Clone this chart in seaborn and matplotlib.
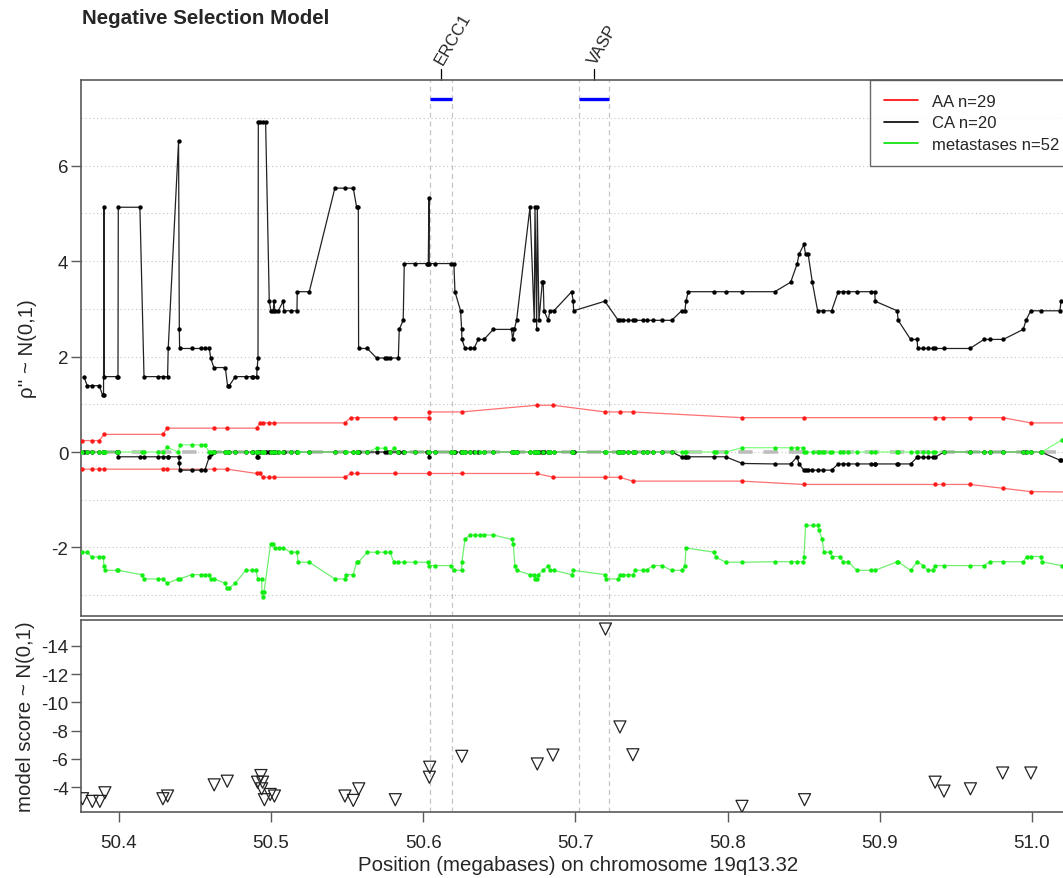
import matplotlib
matplotlib.use("Agg")
import matplotlib.pyplot as plt
from matplotlib.lines import Line2D
import seaborn as sns

# Negative selection model, chromosome 19q13.32 region
# positions in megabases

# AA group (n=29): upper and lower envelope
aa_pos = [50.3756, 50.3822, 50.3872, 50.3903, 50.4288, 50.4319, 50.4625, 50.4713, 50.4906,
          50.4928, 50.4945, 50.4989, 50.5020, 50.5486, 50.5524, 50.5567, 50.5815, 50.6038,
          50.6041, 50.6253, 50.6746, 50.6855, 50.7194, 50.7293, 50.7376, 50.8093, 50.8502,
          50.9363, 50.9418, 50.9593, 50.9808, 50.9994, 51.0300]
aa_hi = [0.24, 0.24, 0.24, 0.37, 0.37, 0.50, 0.50, 0.50, 0.50, 0.61, 0.61, 0.61, 0.61, 0.61,
         0.72, 0.72, 0.72, 0.72, 0.84, 0.84, 0.98, 0.98, 0.84, 0.84, 0.84, 0.72, 0.72, 0.72,
         0.72, 0.72, 0.72, 0.61, 0.61]
aa_lo = [-0.36, -0.36, -0.36, -0.36, -0.36, -0.36, -0.36, -0.36, -0.45, -0.45, -0.53, -0.53,
         -0.53, -0.53, -0.45, -0.45, -0.45, -0.45, -0.45, -0.45, -0.45, -0.53, -0.53, -0.53,
         -0.61, -0.61, -0.68, -0.68, -0.68, -0.68, -0.76, -0.83, -0.84]

# CA group (n=20)
ca_pos = [50.3771, 50.3793, 50.3822, 50.3872, 50.3894, 50.3900, 50.3903, 50.3905, 50.3986, 50.3995,
          50.3997, 50.4139, 50.4166, 50.4260, 50.4288, 50.4321, 50.4325, 50.4393, 50.4398, 50.4400,
          50.4479, 50.4540, 50.4566, 50.4595, 50.4604, 50.4625, 50.4700, 50.4715, 50.4726, 50.4766,
          50.4834, 50.4873, 50.4884, 50.4906, 50.4910, 50.4915, 50.4917, 50.4928, 50.4945, 50.4965,
          50.4989, 50.5000, 50.5015, 50.5020, 50.5026, 50.5048, 50.5081, 50.5085, 50.5129, 50.5171,
          50.5173, 50.5252, 50.5420, 50.5486, 50.5541, 50.5563, 50.5574, 50.5576, 50.5633, 50.5694,
          50.5749, 50.5765, 50.5782, 50.5837, 50.5843, 50.5869, 50.5876, 50.5946, 50.6027, 50.6034,
          50.6038, 50.6040, 50.6078, 50.6181, 50.6202, 50.6209, 50.6246, 50.6253, 50.6255, 50.6275,
          50.6307, 50.6334, 50.6362, 50.6400, 50.6461, 50.6581, 50.6588, 50.6599, 50.6614, 50.6702,
          50.6730, 50.6735, 50.6746, 50.6750, 50.6761, 50.6783, 50.6789, 50.6794, 50.6822, 50.6833,
          50.6859, 50.6976, 50.6986, 50.6989, 50.7194, 50.7282, 50.7293, 50.7315, 50.7344, 50.7380,
          50.7392, 50.7442, 50.7468, 50.7508, 50.7567, 50.7633, 50.7698, 50.7720, 50.7727, 50.7742,
          50.7913, 50.7987, 50.8097, 50.8311, 50.8415, 50.8458, 50.8469, 50.8502, 50.8513, 50.8530,
          50.8557, 50.8592, 50.8629, 50.8684, 50.8727, 50.8760, 50.8793, 50.8848, 50.8942, 50.8968,
          50.8970, 50.9115, 50.9121, 50.9203, 50.9246, 50.9249, 50.9286, 50.9315, 50.9347, 50.9363,
          50.9422, 50.9593, 50.9685, 50.9724, 50.9812, 50.9943, 50.9961, 50.9992, 51.0059, 51.0184,
          51.0191, 51.0300]
ca_hi = [1.58, 1.39, 1.39, 1.39, 1.19, 1.19, 5.13, 1.58, 1.58, 1.58,
         5.13, 5.13, 1.58, 1.58, 1.58, 1.58, 2.17, 6.51, 2.57, 2.17,
         2.17, 2.17, 2.17, 2.17, 1.97, 1.77, 1.77, 1.39, 1.39, 1.58,
         1.58, 1.58, 1.58, 1.58, 1.77, 1.97, 6.91, 6.91, 6.91, 6.91,
         3.16, 2.96, 2.96, 3.16, 2.96, 2.96, 3.16, 2.96, 2.96, 2.96,
         3.36, 3.36, 5.53, 5.53, 5.53, 5.13, 5.13, 2.17, 2.17, 1.97,
         1.97, 1.97, 1.97, 1.97, 2.57, 2.76, 3.95, 3.95, 3.95, 3.95,
         5.33, 3.95, 3.95, 3.95, 3.95, 3.36, 2.96, 2.57, 2.36, 2.17,
         2.17, 2.17, 2.36, 2.36, 2.57, 2.57, 2.36, 2.57, 2.76, 5.13,
         2.76, 5.13, 2.57, 5.13, 2.76, 3.56, 3.56, 2.96, 2.76, 2.96,
         2.96, 3.36, 3.16, 2.96, 3.16, 2.76, 2.76, 2.76, 2.76, 2.76,
         2.76, 2.76, 2.76, 2.76, 2.76, 2.76, 2.96, 2.96, 3.16, 3.36,
         3.36, 3.36, 3.36, 3.36, 3.56, 3.95, 4.14, 4.35, 4.14, 4.14,
         3.56, 2.96, 2.96, 2.96, 3.36, 3.36, 3.36, 3.36, 3.36, 3.36,
         3.16, 2.96, 2.76, 2.36, 2.36, 2.17, 2.17, 2.17, 2.17, 2.17,
         2.17, 2.17, 2.36, 2.36, 2.36, 2.57, 2.76, 2.96, 2.96, 2.96,
         3.16, 3.16]
ca_lo = [0, 0, 0, 0, 0, 0, 0, 0, 0, 0,
         -0.10, -0.10, -0.10, -0.10, -0.10, -0.10, -0.10, -0.10, -0.22, -0.38,
         -0.38, -0.38, -0.38, -0.10, -0.05, 0, 0, 0, 0, 0,
         0, 0, 0, 0, -0.10, -0.10, 0, 0, 0, 0,
         0, 0, 0, 0, 0, 0, 0, 0, 0, 0,
         0, 0, 0, 0, 0, 0, 0, 0, 0, 0,
         0, 0, 0, 0, 0, 0, 0, 0, 0, 0,
         -0.10, 0, 0, 0, 0, 0, 0, 0, 0, 0,
         0, 0, 0, 0, 0, 0, 0, 0, 0, 0,
         0, 0, 0, 0, 0, 0, 0, 0, 0, 0,
         0, 0, 0, 0, 0, 0, 0, 0, 0, 0,
         0, 0, 0, 0, 0, 0, -0.10, -0.10, -0.10, -0.10,
         -0.10, -0.10, -0.24, -0.25, -0.25, -0.10, -0.25, -0.38, -0.38, -0.38,
         -0.38, -0.38, -0.38, -0.38, -0.25, -0.25, -0.25, -0.25, -0.25, -0.25,
         -0.25, -0.25, -0.25, -0.25, -0.11, -0.11, -0.11, -0.11, -0.11, -0.11,
         0, 0, 0, 0, 0, 0, 0, 0, 0, -0.17,
         -0.17, -0.17]

# metastases (n=52)
met_pos = [50.3756, 50.3793, 50.3822, 50.3872, 50.3898, 50.3903, 50.3909, 50.3986, 50.3997, 50.4150,
           50.4166, 50.4260, 50.4288, 50.4319, 50.4391, 50.4402, 50.4479, 50.4540, 50.4566, 50.4595,
           50.4604, 50.4625, 50.4700, 50.4708, 50.4726, 50.4766, 50.4834, 50.4873, 50.4902, 50.4913,
           50.4939, 50.4941, 50.4945, 50.4954, 50.4998, 50.5015, 50.5026, 50.5055, 50.5081, 50.5129,
           50.5171, 50.5179, 50.5252, 50.5420, 50.5486, 50.5490, 50.5541, 50.5563, 50.5574, 50.5633,
           50.5694, 50.5749, 50.5782, 50.5808, 50.5837, 50.5874, 50.5946, 50.6030, 50.6038, 50.6078,
           50.6181, 50.6202, 50.6253, 50.6255, 50.6275, 50.6307, 50.6340, 50.6373, 50.6400, 50.6461,
           50.6581, 50.6592, 50.6603, 50.6614, 50.6702, 50.6730, 50.6735, 50.6746, 50.6757, 50.6789,
           50.6822, 50.6833, 50.6859, 50.6976, 50.6986, 50.7194, 50.7201, 50.7282, 50.7293, 50.7315,
           50.7344, 50.7380, 50.7392, 50.7442, 50.7468, 50.7508, 50.7567, 50.7633, 50.7698, 50.7720,
           50.7727, 50.7913, 50.7922, 50.7987, 50.8097, 50.8311, 50.8415, 50.8458, 50.8498, 50.8502,
           50.8513, 50.8559, 50.8592, 50.8600, 50.8622, 50.8633, 50.8673, 50.8688, 50.8738, 50.8760,
           50.8793, 50.8848, 50.8942, 50.8968, 50.9115, 50.9121, 50.9203, 50.9246, 50.9286, 50.9315,
           50.9347, 50.9363, 50.9422, 50.9593, 50.9685, 50.9724, 50.9812, 50.9943, 50.9965, 50.9992,
           51.0059, 51.0064, 51.0196, 51.0300]
met_hi = [0, 0, 0, 0, 0, 0, 0, 0, 0, 0,
          0, 0, 0, 0.10, 0, 0.15, 0.15, 0.15, 0.15, 0,
          0, 0, 0, 0, 0, 0, 0, 0, 0, 0,
          0, 0, 0, 0, 0, 0, 0, 0, 0, 0,
          0, 0, 0, 0, 0, 0, 0, 0, 0, 0,
          0.08, 0.08, 0, 0.08, 0, 0, 0, 0, 0, 0,
          0, 0, 0, 0, 0, 0, 0, 0, 0, 0,
          0, 0, 0, 0, 0, 0, 0, 0, 0, 0,
          0, 0, 0, 0, 0, 0, 0, 0, 0, 0,
          0, 0, 0, 0, 0, 0, 0, 0, 0, 0,
          0, 0, 0, 0, 0.09, 0.09, 0.09, 0.09, 0.09, 0,
          0, 0, 0, 0, 0, 0, 0, 0, 0, 0,
          0, 0, 0, 0, 0, 0, 0, 0, 0, 0,
          0, 0, 0, 0, 0, 0, 0, 0, 0, 0,
          0, 0, 0.25, 0.25]
met_lo = [-2.10, -2.10, -2.20, -2.20, -2.20, -2.38, -2.48, -2.48, -2.48, -2.57,
          -2.66, -2.66, -2.66, -2.75, -2.66, -2.66, -2.57, -2.57, -2.57, -2.57,
          -2.66, -2.66, -2.75, -2.85, -2.85, -2.75, -2.48, -2.48, -2.48, -2.66,
          -2.66, -2.94, -3.03, -2.94, -1.92, -1.92, -2.01, -2.01, -2.01, -2.10,
          -2.10, -2.31, -2.31, -2.66, -2.66, -2.57, -2.57, -2.31, -2.31, -2.10,
          -2.10, -2.10, -2.10, -2.31, -2.31, -2.31, -2.31, -2.31, -2.38, -2.38,
          -2.38, -2.48, -2.48, -2.30, -1.83, -1.74, -1.74, -1.74, -1.74, -1.74,
          -1.83, -1.92, -2.38, -2.48, -2.57, -2.57, -2.66, -2.66, -2.57, -2.48,
          -2.38, -2.48, -2.48, -2.57, -2.48, -2.57, -2.66, -2.66, -2.57, -2.57,
          -2.57, -2.57, -2.48, -2.48, -2.48, -2.38, -2.38, -2.48, -2.48, -2.38,
          -2.01, -2.10, -2.20, -2.31, -2.31, -2.30, -2.30, -2.30, -2.30, -2.19,
          -1.54, -1.54, -1.54, -1.63, -1.83, -2.10, -2.10, -2.19, -2.19, -2.30,
          -2.30, -2.48, -2.48, -2.48, -2.30, -2.30, -2.48, -2.30, -2.38, -2.48,
          -2.48, -2.38, -2.38, -2.38, -2.38, -2.30, -2.30, -2.30, -2.19, -2.19,
          -2.19, -2.30, -2.38, -2.45]

# model score (bottom panel)
score_pos = [50.3762, 50.3826, 50.3876, 50.3909, 50.4290, 50.4321, 50.4627, 50.4713, 50.4934,
             50.4912, 50.4945, 50.4939, 50.4957, 50.4995, 50.5023, 50.5486, 50.5541, 50.5577,
             50.5817, 50.6043, 50.6041, 50.6254, 50.6750, 50.6853, 50.7198, 50.7293, 50.7378,
             50.8095, 50.8506, 50.9364, 50.9422, 50.9596, 50.9808, 50.9993]
score_val = [-3.18, -2.99, -2.99, -3.60, -3.18, -3.37, -4.16, -4.42, -4.82, -4.35, -4.35, -3.88,
             -3.11, -3.48, -3.37, -3.37, -3.06, -3.88, -3.11, -5.41, -4.70, -6.18, -5.64, -6.27,
             -15.19, -8.26, -6.29, -2.64, -3.11, -4.35, -3.72, -3.88, -5.00, -5.00]

# genes
gene_names = ["ERCC1", "VASP"]
gene_start = [50.6046, 50.7026]
gene_end = [50.6190, 50.7223]

sns.set_theme(style="white")
plt.rcParams['font.family'] = ['Liberation Sans', 'DejaVu Sans']

W, H = 1063, 879
fig = plt.figure(figsize=(W / 100, H / 100), dpi=100)


def px_box(l, t, r, b):
    return [l / W, 1 - b / H, (r - l) / W, (b - t) / H]


ax1 = fig.add_axes(px_box(81, 81, 1075, 617))
ax2 = fig.add_axes(px_box(81, 621, 1075, 813))

xmin, xmax = 50.3752, 51.0283
spine_col = '#5a5a5a'

# top panel -------------------------------------------------
for v in range(-3, 8):
    ax1.axhline(v, color='#c4c4c4', lw=0.8, ls=(0, (1, 2.5)), zorder=0)
ax1.axhline(0, color='#bdbdbd', lw=2.6, ls=(0, (4, 3)), zorder=1)

line_kw = dict(sort=False, estimator=None, errorbar=None, lw=0.9, ax=ax1, legend=False)
sns.lineplot(x=aa_pos, y=aa_hi, color='#ff7070', **line_kw)
sns.lineplot(x=aa_pos, y=aa_lo, color='#ff7070', **line_kw)
sns.lineplot(x=ca_pos, y=ca_hi, color='#222222', **line_kw)
sns.lineplot(x=ca_pos, y=ca_lo, color='#222222', **line_kw)
sns.lineplot(x=met_pos, y=met_hi, color='#80ff80', **line_kw)
sns.lineplot(x=met_pos, y=met_lo, color='#70f070', **line_kw)

dot_kw = dict(s=10, linewidth=0, ax=ax1, legend=False, zorder=3)
sns.scatterplot(x=aa_pos + aa_pos, y=aa_hi + aa_lo, color='#ff1a1a', **dot_kw)
sns.scatterplot(x=ca_pos + ca_pos, y=ca_hi + ca_lo, color='black', **dot_kw)
sns.scatterplot(x=met_pos + met_pos, y=met_hi + met_lo, color='#11ee11', **dot_kw)

# gene bars, boundaries and labels
for name, s, e in zip(gene_names, gene_start, gene_end):
    ax1.plot([s, e], [7.40, 7.40], color='#0000ff', lw=2.4, solid_capstyle='butt', zorder=4)
    for a in (ax1, ax2):
        a.axvline(s, color='#c6c6c6', lw=0.9, ls=(0, (4, 3)), zorder=0)
        a.axvline(e, color='#c6c6c6', lw=0.9, ls=(0, (4, 3)), zorder=0)
    mid = (s + e) / 2
    ax1.plot([mid, mid], [7.797, 8.03], color='black', lw=0.9, clip_on=False)
    ax1.text(mid + 0.0012, 8.12, name, rotation=60, rotation_mode='anchor',
             ha='left', va='baseline', fontsize=12, clip_on=False)

ax1.set_xlim(xmin, xmax)
ax1.set_ylim(-3.437, 7.797)
ax1.set_xticks([])
ax1.set_yticks([-2, 0, 2, 4, 6])
ax1.set_yticklabels(['-2', '0', '2', '4', '6'])
ax1.set_ylabel("ρ'' ~ N(0,1)", fontsize=14.7)
ax1.yaxis.set_label_coords(-0.044, 0.5)

handles = [Line2D([], [], color='#ff0000', lw=1.2),
           Line2D([], [], color='black', lw=1.2),
           Line2D([], [], color='#00e000', lw=1.2)]
leg = ax1.legend(handles, ['AA n=29', 'CA n=20', 'metastases n=52'],
                 loc='upper left', bbox_to_anchor=(0.794, 1.0), borderaxespad=0,
                 fontsize=12.0, frameon=True, fancybox=False, handlelength=2.0,
                 handletextpad=0.85, borderpad=0.85, labelspacing=0.38)
leg.get_frame().set_edgecolor('#444444')
leg.get_frame().set_linewidth(1.0)

# bottom panel ----------------------------------------------
sns.scatterplot(x=score_pos, y=score_val, marker='v', s=75, facecolors='none',
                edgecolor='#222222', linewidth=0.9, ax=ax2, legend=False, zorder=3)
ax2.set_xlim(xmin, xmax)
ax2.set_ylim(-2.24, -15.83)
ax2.set_yticks([-14, -12, -10, -8, -6, -4])
ax2.set_yticklabels(['-14', '-12', '-10', '-8', '-6', '-4'])
ax2.set_xticks([50.4, 50.5, 50.6, 50.7, 50.8, 50.9, 51.0])
ax2.set_xticklabels(['50.4', '50.5', '50.6', '50.7', '50.8', '50.9', '51.0'])
ax2.set_ylabel("model score ~ N(0,1)", fontsize=14.7)
ax2.yaxis.set_label_coords(-0.046, 0.5)
ax2.set_xlabel("Position (megabases) on chromosome 19q13.32", fontsize=14.7, labelpad=3)

for a in (ax1, ax2):
    a.grid(False)
    for side in ('left', 'top', 'bottom'):
        a.spines[side].set_color(spine_col)
        a.spines[side].set_linewidth(1.2)
    a.spines['right'].set_visible(False)
    a.tick_params(axis='both', which='both', direction='out', length=7.5, width=1.0,
                  color=spine_col, labelsize=13.5, left=True, bottom=True)
    a.tick_params(axis='y', pad=1.5)
    a.tick_params(axis='x', pad=8.5)

fig.text(82 / W, 1 - 19 / H, "Negative Selection Model", fontsize=14.8,
         fontweight='bold', ha='left', va='center')

fig.savefig("out.png", dpi=100)
